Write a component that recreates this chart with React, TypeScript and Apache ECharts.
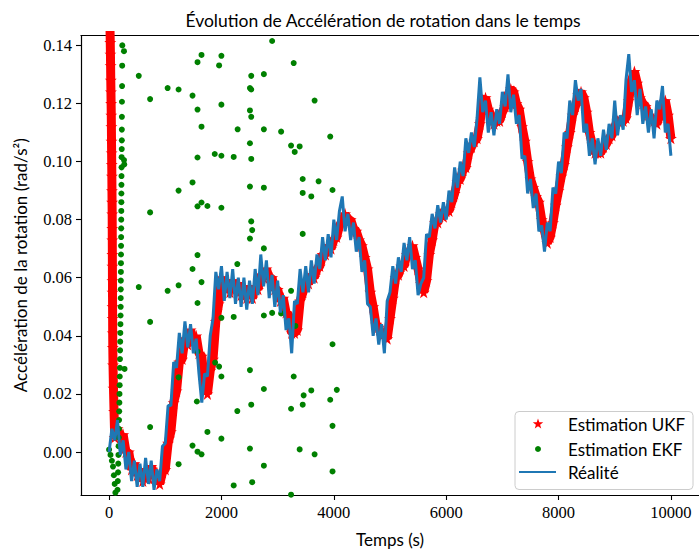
import React, { useEffect, useRef } from "react";
import * as echarts from "echarts";

// ---- axis ticks ----
const xTicks = [0, 2000, 4000, 6000, 8000, 10000];
const yTicks = [0, 0.02, 0.04, 0.06, 0.08, 0.1, 0.12, 0.14];

// ---- Réalité (sampled every 50 s from t = 0 to 10000) ----
const realityValues = [
  0.000, 0.008, 0.004, 0.011, -0.001, 0.004, -0.006, 0.000, -0.010, -0.003,
  -0.012, -0.004, -0.012, -0.002, -0.011, -0.003, -0.013, -0.006, -0.010, 0.002,
  0.003, 0.016, 0.016, 0.031, 0.029, 0.041, 0.034, 0.045, 0.036, 0.044,
  0.034, 0.039, 0.027, 0.017, 0.027, 0.026, 0.040, 0.046, 0.062, 0.056,
  0.064, 0.052, 0.062, 0.053, 0.063, 0.051, 0.060, 0.050, 0.060, 0.049,
  0.059, 0.051, 0.063, 0.054, 0.068, 0.057, 0.066, 0.053, 0.061, 0.050,
  0.059, 0.048, 0.054, 0.042, 0.046, 0.034, 0.052, 0.051, 0.063, 0.055,
  0.064, 0.055, 0.066, 0.058, 0.068, 0.063, 0.074, 0.066, 0.075, 0.067,
  0.080, 0.073, 0.083, 0.088, 0.076, 0.082, 0.073, 0.079, 0.069, 0.074,
  0.062, 0.066, 0.051, 0.050, 0.040, 0.046, 0.037, 0.044, 0.034, 0.052,
  0.055, 0.064, 0.058, 0.067, 0.062, 0.072, 0.066, 0.074, 0.063, 0.066,
  0.054, 0.058, 0.060, 0.075, 0.074, 0.082, 0.077, 0.085, 0.079, 0.086,
  0.080, 0.090, 0.086, 0.098, 0.091, 0.100, 0.095, 0.108, 0.103, 0.110,
  0.105, 0.115, 0.129, 0.117, 0.121, 0.110, 0.117, 0.109, 0.118, 0.113,
  0.124, 0.119, 0.130, 0.117, 0.123, 0.113, 0.116, 0.101, 0.102, 0.089,
  0.094, 0.084, 0.089, 0.076, 0.078, 0.069, 0.079, 0.076, 0.091, 0.089,
  0.100, 0.096, 0.110, 0.108, 0.121, 0.116, 0.128, 0.121, 0.125, 0.110,
  0.113, 0.102, 0.108, 0.099, 0.108, 0.102, 0.111, 0.104, 0.113, 0.108,
  0.121, 0.109, 0.116, 0.111, 0.128, 0.137, 0.124, 0.128, 0.116, 0.125,
  0.113, 0.119, 0.110, 0.118, 0.108, 0.121, 0.118, 0.126, 0.110, 0.113,
  0.102,
];
const realityStep = 50;

// ---- Estimation UKF : initial transient ----
const ukfStartTime = [
  5, 12, 17, 21, 24, 27, 30, 33, 36, 39, 41, 43, 45, 47, 49, 51, 53, 55, 56, 57,
  58, 59, 60, 61, 62, 63, 64, 66, 70, 78, 88,
];
const ukfStartValue = [
  0.300, 0.160, 0.145, 0.141, 0.137, 0.133, 0.128, 0.124, 0.120, 0.116,
  0.112, 0.107, 0.103, 0.099, 0.095, 0.090, 0.086, 0.082, 0.077, 0.073,
  0.068, 0.064, 0.059, 0.055, 0.050, 0.046, 0.041, 0.036, 0.030, 0.022,
  0.014,
];
// ---- Estimation UKF : every 50 s from t = 100 to 10000 ----
const ukfFirstTime = 100;
const ukfValues = [
  0.005, 0.008, 0.005, 0.006, 0.000, 0.000, -0.006, -0.004, -0.008, -0.006,
  -0.010, -0.006, -0.009, -0.005, -0.009, -0.007, -0.011, -0.007, -0.006, 0.003,
  0.007, 0.017, 0.021, 0.031, 0.032, 0.039, 0.037, 0.042, 0.038, 0.040,
  0.034, 0.033, 0.023, 0.020, 0.028, 0.032, 0.045, 0.051, 0.060, 0.057,
  0.059, 0.055, 0.059, 0.056, 0.058, 0.054, 0.057, 0.053, 0.056, 0.053,
  0.057, 0.056, 0.061, 0.060, 0.063, 0.060, 0.060, 0.056, 0.056, 0.052,
  0.053, 0.048, 0.047, 0.041, 0.041, 0.042, 0.052, 0.055, 0.059, 0.058,
  0.061, 0.060, 0.063, 0.064, 0.068, 0.068, 0.071, 0.070, 0.073, 0.074,
  0.078, 0.079, 0.082, 0.080, 0.080, 0.077, 0.076, 0.073, 0.071, 0.067,
  0.063, 0.055, 0.050, 0.044, 0.043, 0.040, 0.041, 0.039, 0.046, 0.053,
  0.060, 0.061, 0.064, 0.064, 0.068, 0.069, 0.071, 0.067, 0.063, 0.058,
  0.055, 0.059, 0.068, 0.073, 0.079, 0.079, 0.082, 0.081, 0.083, 0.083,
  0.086, 0.089, 0.093, 0.094, 0.097, 0.098, 0.103, 0.105, 0.107, 0.108,
  0.113, 0.121, 0.122, 0.118, 0.116, 0.113, 0.114, 0.114, 0.117, 0.119,
  0.123, 0.125, 0.124, 0.120, 0.118, 0.112, 0.107, 0.100, 0.094, 0.091,
  0.088, 0.086, 0.080, 0.076, 0.072, 0.074, 0.079, 0.085, 0.090, 0.095,
  0.099, 0.105, 0.110, 0.116, 0.119, 0.123, 0.124, 0.122, 0.117, 0.110,
  0.106, 0.103, 0.103, 0.103, 0.105, 0.106, 0.108, 0.109, 0.112, 0.114,
  0.114, 0.114, 0.115, 0.121, 0.128, 0.131, 0.127, 0.122, 0.120, 0.119,
  0.116, 0.115, 0.114, 0.113, 0.116, 0.120, 0.121, 0.116, 0.108,
];
const ukfStep = 50;

// ---- Estimation EKF (points) ----
const ekfTime = [
  0, 25, 50, 70, 85, 100, 112, 125,
  150, 155, 160, 163, 166, 169, 172, 175, 178, 180, 183, 185, 188, 190, 192, 194,
  196, 198, 200, 202, 204, 206, 207, 208, 209, 210, 211, 212, 213, 214, 215, 216,
  217, 218, 219, 220, 221, 222, 223, 225, 226, 227, 228, 229, 231, 233, 235, 237,
  265, 265, 270, 275,
  2902, 1645, 1999, 1574, 1958, 3286, 528, 2530, 2755, 1042, 1237, 2507, 2530, 1485,
  730, 3658, 1999, 1574, 2507, 2530, 1645, 2288, 2755, 3062, 3936, 2507, 3239, 3392,
  3304, 1881, 1999, 2218, 1574, 2530, 1485, 1237, 2507, 2755, 3446, 3729, 3446, 3599,
  3977, 730, 1645, 1574, 1750, 1999, 2530, 2547, 2507, 3446, 2755, 1574, 1485, 2282,
  528, 1042, 1237, 1645, 1574, 730, 1999, 2218, 2755, 2902, 3062, 3239, 3316, 1237,
  1574, 1887, 1958, 1999, 2507, 3286, 3977, 1562, 2755, 3463, 3599, 3446, 3239, 3936,
  4053, 2282, 2530, 730, 1750, 1999, 3977, 1485, 1574, 1645, 2507, 3392, 3658, 1237,
  2755, 3977, 2218, 2547, 3239,
];
const ekfValue = [
  0.0008, -0.001, -0.003, -0.005, -0.008, -0.011, -0.014, -0.017,
  -0.013, -0.010, -0.007, -0.004, -0.001, 0.002, 0.005, 0.008, 0.011, 0.014, 0.017, 0.020, 0.023, 0.026, 0.029, 0.032,
  0.035, 0.038, 0.041, 0.044, 0.047, 0.050, 0.053, 0.056, 0.059, 0.062, 0.065, 0.068, 0.071, 0.074, 0.077, 0.080,
  0.083, 0.086, 0.089, 0.092, 0.095, 0.098, 0.1015, 0.1043, 0.1073, 0.111, 0.1154, 0.1206, 0.126, 0.133, 0.140, 0.150,
  0.138, 0.1005, 0.099, 0.0286,
  0.1415, 0.1367, 0.1364, 0.1342, 0.1331, 0.1339, 0.1295, 0.1295, 0.1301, 0.1253, 0.1248, 0.1253, 0.1248, 0.1227,
  0.1215, 0.121, 0.1196, 0.1179, 0.1176, 0.1154, 0.112, 0.1111, 0.1111, 0.1103, 0.1086, 0.1063, 0.1055, 0.1052,
  0.1033, 0.1026, 0.102, 0.1016, 0.1014, 0.1009, 0.0928, 0.09, 0.0914, 0.091, 0.094, 0.0932, 0.0892, 0.088,
  0.0902, 0.0825, 0.0859, 0.0846, 0.0847, 0.0841, 0.0794, 0.0764, 0.0735, 0.0751, 0.0701, 0.0678, 0.063, 0.0647,
  0.0568, 0.0555, 0.0574, 0.0585, 0.0513, 0.0448, 0.0462, 0.0465, 0.047, 0.0479, 0.0477, 0.0555, 0.0434, 0.0257,
  0.0346, 0.0308, 0.0294, 0.026, 0.0282, 0.026, 0.0371, 0.0174, 0.0217, 0.0195, 0.0212, 0.0163, 0.0149, 0.018,
  0.0214, 0.0141, 0.0163, 0.0086, 0.0069, 0.0046, 0.009, 0.0022, 0.0001, -0.0008, 0.0012, 0.0009, -0.0008, -0.0042,
  -0.0047, -0.0067, -0.0115, -0.0104, -0.0147,
];

const STAR =
  "path://M50,0 L61.2,34.5 L97.6,34.5 L68.2,55.9 L79.4,90.5 L50,69.1 L20.6,90.5 L31.8,55.9 L2.4,34.5 L38.8,34.5 Z";
const SANS = "Lato, 'DejaVu Sans', sans-serif";
const SERIF = "'Liberation Serif', 'DejaVu Serif', serif";

function starPoints(cx: number, cy: number, r: number): number[][] {
  const pts: number[][] = [];
  for (let k = 0; k < 10; k++) {
    const rr = k % 2 === 0 ? r : r * 0.4;
    const a = -Math.PI / 2 + (k * Math.PI) / 5;
    pts.push([cx + rr * Math.cos(a), cy + rr * Math.sin(a)]);
  }
  return pts;
}

export default function App() {
  const ref = useRef<HTMLDivElement>(null);
  useEffect(() => {
    document.body.style.margin = "0";
    if (!ref.current) return;
    const chart = echarts.init(ref.current, null, { renderer: "svg" });

    const realityData = realityValues.map((v, i) => [i * realityStep, v]);
    const ukfData = ukfStartTime
      .map((t, i) => [t, ukfStartValue[i]])
      .concat(ukfValues.map((v, i) => [ukfFirstTime + i * ukfStep, v]));
    const ekfData = ekfTime.map((t, i) => [t, ekfValue[i]]);

    const axisLine = { show: true, onZero: false, lineStyle: { color: "#000", width: 1.2 } };
    const lx = 515, ly = 411.5;

    chart.setOption({
      animation: false,
      backgroundColor: "#fff",
      title: {
        text: "Évolution de Accélération de rotation dans le temps",
        left: 378,
        top: 6,
        textAlign: "center",
        textStyle: { fontFamily: SANS, fontSize: 17.5, fontWeight: "normal", color: "#000" },
      },
      grid: { left: 81, top: 35.5, width: 621, height: 463, containLabel: false },
      xAxis: [
        {
          type: "value",
          min: -500,
          max: 10500,
          position: "bottom",
          axisLine,
          axisTick: { show: true, length: 5, lineStyle: { color: "#000", width: 1.1 }, customValues: xTicks },
          axisLabel: {
            customValues: xTicks,
            formatter: (v: number) => String(v),
            fontFamily: SERIF,
            fontSize: 16.5,
            color: "#000",
            margin: 9,
          },
          splitLine: { show: false },
          name: "Temps (s)",
          nameLocation: "middle",
          nameGap: 36,
          nameTextStyle: { fontFamily: SANS, fontSize: 17, color: "#000" },
        },
        {
          type: "value",
          min: -500,
          max: 10500,
          position: "top",
          axisLine,
          axisTick: { show: false },
          axisLabel: { show: false },
          splitLine: { show: false },
        },
      ],
      yAxis: [
        {
          type: "value",
          min: -0.0148,
          max: 0.1434,
          position: "left",
          axisLine,
          axisTick: { show: true, length: 5, lineStyle: { color: "#000", width: 1.1 }, customValues: yTicks },
          axisLabel: {
            customValues: yTicks,
            formatter: (v: number) => v.toFixed(2),
            fontFamily: SERIF,
            fontSize: 16.5,
            color: "#000",
            margin: 9,
          },
          splitLine: { show: false },
          name: "Accélération de la rotation (rad/s²)",
          nameLocation: "middle",
          nameGap: 52,
          nameTextStyle: { fontFamily: SANS, fontSize: 17, color: "#000" },
        },
      ],
      series: [
        {
          name: "Estimation UKF",
          type: "line",
          data: ukfData,
          symbol: STAR,
          symbolSize: 12,
          showSymbol: true,
          itemStyle: { color: "#ff0000", opacity: 1 },
          lineStyle: { color: "#ff0000", width: 9 },
          clip: true,
          z: 2,
        },
        {
          name: "Estimation EKF",
          type: "scatter",
          data: ekfData,
          symbol: "circle",
          symbolSize: 6,
          itemStyle: { color: "#008000", opacity: 1 },
          clip: true,
          z: 3,
        },
        {
          name: "Réalité",
          type: "line",
          data: realityData,
          symbol: "none",
          lineStyle: { color: "#1f77b4", width: 3 },
          clip: true,
          z: 4,
        },
      ],
      graphic: [
        {
          type: "group",
          z: 100,
          children: [
            {
              type: "rect",
              shape: { x: lx, y: ly, width: 178, height: 78, r: 4 },
              style: { fill: "rgba(255,255,255,0.8)", stroke: "#cccccc", lineWidth: 1 },
            },
            {
              type: "polygon",
              shape: { points: starPoints(538, 424, 5.5) },
              style: { fill: "#ff0000" },
            },
            { type: "circle", shape: { cx: 538, cy: 449, r: 3 }, style: { fill: "#008000" } },
            {
              type: "line",
              shape: { x1: 519, y1: 472, x2: 556, y2: 472 },
              style: { stroke: "#1f77b4", lineWidth: 2 },
            },
            {
              type: "text",
              x: 568,
              y: 424,
              style: { text: "Estimation UKF", fontFamily: SANS, fontSize: 17, fill: "#000", verticalAlign: "middle" },
            },
            {
              type: "text",
              x: 568,
              y: 449,
              style: { text: "Estimation EKF", fontFamily: SANS, fontSize: 17, fill: "#000", verticalAlign: "middle" },
            },
            {
              type: "text",
              x: 568,
              y: 472,
              style: { text: "Réalité", fontFamily: SANS, fontSize: 17, fill: "#000", verticalAlign: "middle" },
            },
          ],
        },
      ],
    });
    return () => chart.dispose();
  }, []);
  return <div ref={ref} style={{ width: 699, height: 553 }} />;
}
